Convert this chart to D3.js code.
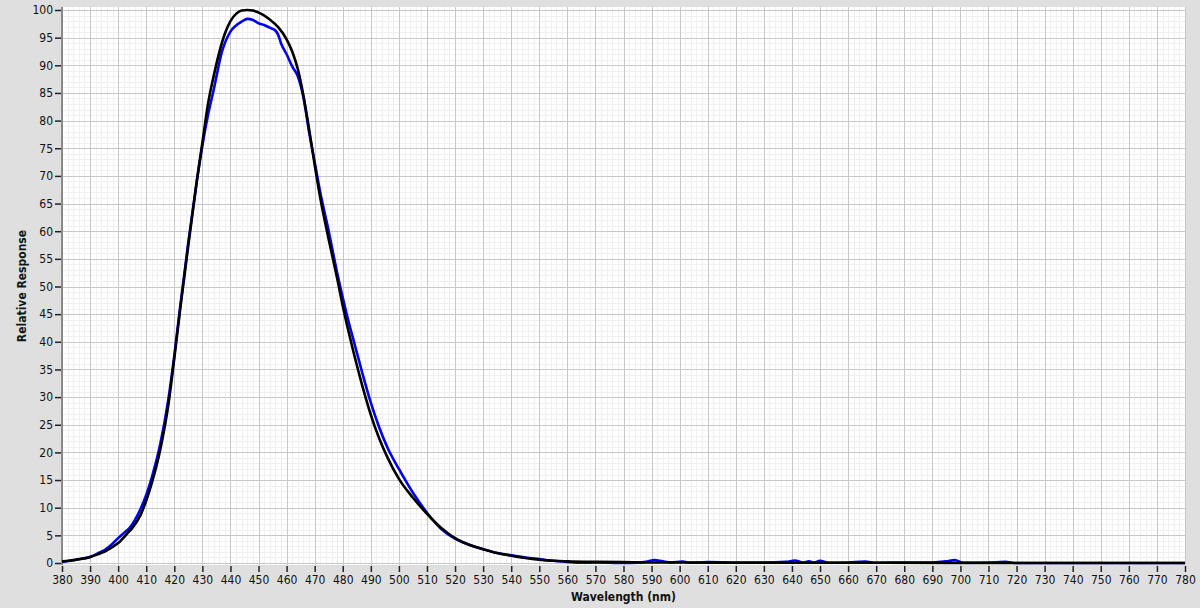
<!DOCTYPE html>
<html>
<head>
<meta charset="utf-8">
<script src="https://cdn.jsdelivr.net/npm/d3@7"></script>
<style>
html,body{margin:0;padding:0;background:#dfdfdf;}
svg{display:block;}
text{font-family:"DejaVu Sans Condensed","DejaVu Sans",sans-serif;}
</style>
</head>
<body>
<svg id="chart" width="1200" height="608"></svg>
<script>
// Wavelength (nm) samples and values for the black (reference) curve
const blackWavelength = [380,385,390,393,395,398,400,403,405,408,410,412,415,418,420,422,425,428,430,432,434,436,438,440,442,444,446,448,451,454,457,460,462,464,466,468,470,472,475,478,480,482,484,487,490,493,496,500,505,510,515,520,525,530,535,540,545,550,555,560,570,580,590,600,620,650,700,740,780];
const blackValues     = [0.3,0.6,1.1,1.6,2.0,2.9,3.6,5.2,6.3,8.7,11.3,14.5,20.5,29,37,45.5,57.5,69,76,83,88,92.3,95.7,98,99.3,99.9,100,99.9,99.3,98.3,96.9,94.7,92.5,89.3,84.5,78.5,72,66,58.5,51.5,46.5,42,37.8,32,26.8,22.5,19,15.2,11.8,8.9,6.4,4.5,3.3,2.5,1.8,1.3,0.9,0.6,0.4,0.3,0.2,0.15,0.1,0.1,0.05,0.05,0.02,0,0];

// Blue (measured) curve
const blueWavelength = [380,385,390,393,395,398,400,402,404,406,408,410,412,415,418,420,422,425,428,430,432,434,437,440,442,444,446,448,450,452,454,456,457,458,460,462,464,466,468,470,472,475,478,480,482,484,487,490,493,496,500,505,510,515,520,525,530,535,540,545,550,555,560,565,570,575,580,585,588,591,594,597,601,604,610,620,630,638,641,644,646,648,650,653,660,666,670,680,690,695,698,701,710,716,720,740,780];
const blueValues     = [0.2,0.6,1.1,1.8,2.3,3.5,4.5,5.4,6.3,7.8,9.8,12.3,15.5,21.5,30,37.5,46,58,69,75.5,81,85.5,92.5,96.1,97.2,97.9,98.4,98.2,97.6,97.3,96.8,96.3,95.5,94,92,89.8,88,84.2,78,72.5,67,60,52.5,48,43.8,40,34.3,29,24.5,20.8,17,12.7,9.1,6.2,4.4,3.3,2.5,1.8,1.4,1.0,0.7,0.4,0.2,0.05,0.1,0.05,0,0.05,0.2,0.55,0.3,0.1,0.25,0.05,0.15,0.1,0.1,0.2,0.45,0.1,0.3,0.1,0.4,0.05,0.1,0.25,0.05,0.1,0.1,0.3,0.55,0.05,0.1,0.2,0,0,0];

// Axis ticks
const xTicks = d3.range(380, 781, 10);
const yTicks = d3.range(0, 101, 5);
const xMinor = d3.range(380, 781, 2);
const yMinor = d3.range(0, 101, 1);

const svg = d3.select("#chart");
const x = d3.scaleLinear().domain([380, 780]).range([62, 1185]);
const y = d3.scaleLinear().domain([0, 100]).range([563, 10]);

const plotTop = y(100) - 3, plotBottom = y(0) + 2;

// plot background
svg.append("rect").attr("x", x(380)).attr("y", plotTop)
  .attr("width", x(780) - x(380)).attr("height", plotBottom - plotTop).attr("fill", "#ffffff");

// minor grid
const g = svg.append("g");
g.selectAll(".xm").data(xMinor).enter().append("line")
  .attr("x1", d => Math.round(x(d)) + 0.5).attr("x2", d => Math.round(x(d)) + 0.5).attr("y1", plotTop).attr("y2", plotBottom)
  .attr("stroke", "#f0f0f0").attr("stroke-width", 1);
g.selectAll(".ym").data(yMinor).enter().append("line")
  .attr("y1", d => Math.round(y(d)) + 0.5).attr("y2", d => Math.round(y(d)) + 0.5).attr("x1", x(380)).attr("x2", x(780))
  .attr("stroke", "#f0f0f0").attr("stroke-width", 1);
// major grid
g.selectAll(".xM").data(xTicks).enter().append("line")
  .attr("x1", d => Math.round(x(d)) + 0.5).attr("x2", d => Math.round(x(d)) + 0.5).attr("y1", plotTop).attr("y2", plotBottom)
  .attr("stroke", "#c8c8c8").attr("stroke-width", 1);
g.selectAll(".yM").data(yTicks).enter().append("line")
  .attr("y1", d => Math.round(y(d)) + 0.5).attr("y2", d => Math.round(y(d)) + 0.5).attr("x1", x(380)).attr("x2", x(780))
  .attr("stroke", "#c8c8c8").attr("stroke-width", 1);

// left axis line
svg.append("line").attr("x1", x(380)).attr("x2", x(380)).attr("y1", plotTop).attr("y2", plotBottom)
  .attr("stroke", "#707070").attr("stroke-width", 1.5);

// axes
const yAxis = d3.axisLeft(y).tickValues(yTicks).tickSize(6).tickPadding(2);
const ya = svg.append("g").attr("transform", `translate(${x(380) - 1},0)`).call(yAxis);
ya.select(".domain").remove();
ya.selectAll("line").attr("stroke", "#222").attr("stroke-width", 1.5);
ya.selectAll("text").attr("font-size", "12px").attr("fill", "#111")
  .attr("font-family", '"DejaVu Sans Condensed","DejaVu Sans",sans-serif');

const xAxis = d3.axisBottom(x).tickValues(xTicks).tickSize(6).tickPadding(3);
const xa = svg.append("g").attr("transform", `translate(0,${plotBottom + 1})`).call(xAxis);
xa.select(".domain").remove();
xa.selectAll("line").attr("stroke", "#222").attr("stroke-width", 1.5);
xa.selectAll("text").attr("font-size", "12px").attr("fill", "#111")
  .attr("font-family", '"DejaVu Sans Condensed","DejaVu Sans",sans-serif');

// titles
svg.append("text").attr("x", (x(380) + x(780)) / 2).attr("y", 601)
  .attr("text-anchor", "middle").attr("font-size", "12px").attr("font-weight", "bold")
  .attr("fill", "#111").text("Wavelength (nm)");
svg.append("text").attr("transform", `translate(26,${(plotTop + plotBottom) / 2}) rotate(-90)`)
  .attr("text-anchor", "middle").attr("font-size", "12px").attr("font-weight", "bold")
  .attr("fill", "#0a1a1a").text("Relative Response");

// curves
const line = d3.line().x(d => x(d[0])).y(d => y(d[1])).curve(d3.curveMonotoneX);
svg.append("clipPath").attr("id", "clip").append("rect")
  .attr("x", x(380)).attr("y", plotTop).attr("width", x(780) - x(380)).attr("height", plotBottom - plotTop + 2);

svg.append("path").datum(d3.zip(blueWavelength, blueValues))
  .attr("d", line).attr("fill", "none").attr("stroke", "#0000ee").attr("stroke-width", 2.6)
  .attr("stroke-linejoin", "round").attr("clip-path", "url(#clip)");
svg.append("path").datum(d3.zip(blackWavelength, blackValues))
  .attr("d", line).attr("fill", "none").attr("stroke", "#000000").attr("stroke-width", 2.6)
  .attr("stroke-linejoin", "round").attr("clip-path", "url(#clip)");
</script>
</body>
</html>
